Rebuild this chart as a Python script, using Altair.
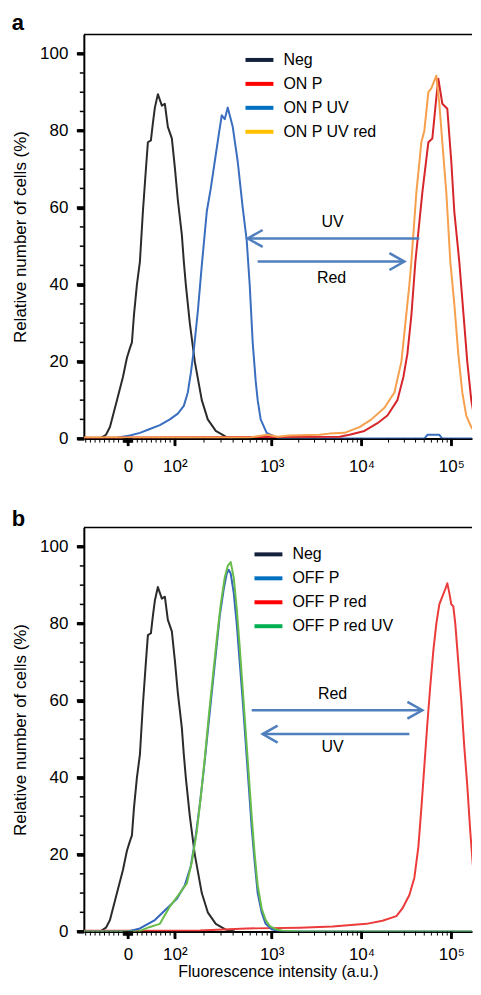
import math
import altair as alt
import pandas as pd

# ---------------------------------------------------------------------------
# Data (x = display channel of the biexponential cytometry axis:
#        0 = zero fluorescence, ~90 channels per decade in the log region;
#        y = relative number of cells, %)
# ---------------------------------------------------------------------------
neg_ch = [-28, -22, -18, -11, -5, -1, 2, 4, 6, 9, 12, 15, 18, 20, 23, 25, 27, 30, 32, 34,
          37, 40, 44, 47, 50, 54, 56, 58, 62, 67, 74, 80, 88, 98, 107]
neg_pct = [0, 1, 3, 10, 16, 21, 23.5, 25, 32, 40, 46, 59, 70, 77, 77.5, 82, 86, 89.5, 88, 86.5,
           87, 81, 78, 70.5, 62, 53, 46, 40, 30, 20, 10, 5, 2, 0.5, 0]

# panel a
onp_uv_ch = [-10, 2, 12, 22, 32, 42, 50, 56, 60, 63, 66, 70, 74, 79, 83, 87, 91, 94, 97, 100,
             105, 110, 115, 119, 122, 125, 128, 130, 133, 139, 149, 162, 297, 300, 312, 315, 353]
onp_uv_pct = [0.3, 0.8, 1.5, 2.5, 3.5, 5, 6.5, 8.5, 12, 17, 23, 33, 45, 59, 65, 72, 79, 84, 83, 86,
              81, 72, 60, 51.5, 40, 25, 15, 10, 5, 1.5, 0.3, 0, 0, 1, 1, 0, 0]

onp_ch = [-44, 212, 222, 237, 250, 260, 270, 276, 280, 284, 288, 295, 301, 305, 309, 311, 315,
          320, 324, 327, 332, 336, 340, 344, 348, 353]
onp_pct = [0.2, 0.5, 1, 2, 4, 6, 10, 16, 22, 32, 46, 64, 77, 78, 88.6, 93.5, 87,
           85.7, 72, 59, 46, 33, 20, 10, 4, 1.5]

onp_uv_red_ch = [-44, 122, 140, 150, 162, 192, 202, 217, 232, 244, 257, 267, 274, 278, 282, 284,
                 289, 294, 297, 301, 304, 309, 312, 315, 319, 323, 327, 331, 335, 339, 344, 350, 353]
onp_uv_red_pct = [0.3, 0.3, 1, 0.5, 0.8, 1, 1.3, 1.5, 3, 5, 8, 12, 20, 30, 40, 46,
                  64, 77, 80, 90, 91, 94.3, 87, 77, 64, 46, 35, 22, 12, 6, 3, 1, 0.5]

# panel b
offp_ch = [-44, 0, 12, 27, 39, 49, 57, 63, 68, 72, 76, 80, 84, 88, 92, 96, 99, 101, 103, 106,
           109, 112, 115, 118, 121, 124, 127, 130, 134, 138, 144, 152, 353]
offp_pct = [0, 0, 0.8, 3, 6, 8.5, 12, 17, 25, 33, 42, 52, 62, 72, 82, 89, 93, 94, 93, 88,
            80, 70, 60, 49, 38, 27, 18, 10, 5, 2, 0.6, 0.1, 0]

offp_red_ch = [-44, 72, 119, 172, 205, 239, 255, 269, 275, 282, 287, 291, 294, 297, 300, 303,
               306, 309, 312, 315, 318, 320, 322, 324, 326, 328, 331, 334, 337, 340, 343, 346,
               349, 352, 353]
offp_red_pct = [0.2, 0.3, 0.8, 1, 1.3, 2, 2.8, 4, 6, 9.5, 14, 22, 32, 43, 54, 64,
                73, 80, 85, 87, 89, 90.5, 88, 85, 84.5, 80, 70, 60, 48, 38, 26, 16,
                8, 3, 2]

offp_red_uv_ch = [-44, 10, 22, 32, 42, 52, 59, 64, 69, 73, 77, 81, 85, 89, 93, 97, 100, 103,
                  106, 109, 112, 115, 118, 121, 124, 127, 130, 134, 138, 142, 148, 155, 172, 353]
offp_red_uv_pct = [0, 0, 1.2, 2, 6.5, 10, 12.5, 18, 26, 35, 45, 56, 66, 76, 85, 92, 95, 96,
                   92, 84, 74, 63, 52, 41, 30, 20, 12, 6, 3, 1.5, 0.6, 0.2, 0, 0]

# series names, curve colours, legend swatch colours
a_names = ["Neg", "ON P", "ON P UV", "ON P UV red"]
a_curve_colors = ["#2b2b2b", "#d7262b", "#3a6ebf", "#f6a04d"]
a_legend_colors = ["#14213d", "#ff0000", "#0070c0", "#ffc000"]
a_draw_order = ["Neg", "ON P UV", "ON P", "ON P UV red"]

b_names = ["Neg", "OFF P", "OFF P red", "OFF P red UV"]
b_curve_colors = ["#2b2b2b", "#3466be", "#ec3b3b", "#68bd4a"]
b_legend_colors = ["#14213d", "#0070c0", "#ff0000", "#00b050"]
b_draw_order = ["Neg", "OFF P red", "OFF P", "OFF P red UV"]

# annotation arrows: (tail channel, tip channel, % level)
a_arrows = [(292, 120, 52.0), (130, 277, 46.0)]
a_arrow_labels = [("UV", 205, 56.2), ("Red", 204, 41.7)]
b_arrows = [(124, 295, 57.5), (282, 135, 51.3)]
b_arrow_labels = [("Red", 205, 61.8), ("UV", 205, 47.9)]

# axes
major_int = [0, 1e2, 1e3, 1e4, 1e5]
major_labels = ["0", "10²", "10³", "10⁴", "10⁵"]
minor_int = ([s * v for v in range(1, 10) for s in (-1, 1)] +
             [s * v for v in range(10, 100, 10) for s in (-1, 1)] +
             list(range(200, 1000, 100)) + list(range(2000, 10000, 1000)) +
             list(range(20000, 100000, 10000)) + [200000])
y_major = [0, 20, 40, 60, 80, 100]
y_minor = [v for v in range(5, 101, 5) if v % 20]
Y_MAX = 105
Y_TITLE = "Relative number of cells (%)"

PLOT_W, PLOT_H = 389, 405


def biex(v):
    """Intensity -> display channel of the biexponential axis."""
    if abs(v) <= 100:
        return 0.47 * v
    if v <= 1e3:
        return 47 + 97 * math.log10(v / 100)
    if v <= 1e4:
        return 144 + 90 * math.log10(v / 1e3)
    return 234 + 90 * math.log10(v / 1e4)


X_DOMAIN = [biex(-94), biex(1.7e5)]
major_pos = [round(biex(v), 4) for v in major_int]
minor_pos = [round(biex(v), 4) for v in minor_int
             if X_DOMAIN[0] <= biex(v) <= X_DOMAIN[1]]

label_expr = ""
for p, lab in zip(major_pos, major_labels):
    label_expr += f"abs(datum.value - {p}) < 0.01 ? '{lab}' : "
label_expr += "''"

FONT = "Liberation Sans"
ARROW = "#4f7fbd"

XS = alt.Scale(domain=X_DOMAIN, nice=False, zero=False)
YS = alt.Scale(domain=[0, Y_MAX], nice=False, zero=False)

curves = {
    "Neg": (neg_ch, neg_pct),
    "ON P": (onp_ch, onp_pct),
    "ON P UV": (onp_uv_ch, onp_uv_pct),
    "ON P UV red": (onp_uv_red_ch, onp_uv_red_pct),
    "OFF P": (offp_ch, offp_pct),
    "OFF P red": (offp_red_ch, offp_red_pct),
    "OFF P red UV": (offp_red_uv_ch, offp_red_uv_pct),
}


def make_axes(label_pad, title_pad, title_size):
    xa = alt.Axis(orient="bottom", values=major_pos, labelExpr=label_expr,
                  tickSize=7, tickWidth=2.5, tickColor="black",
                  domainColor="black", domainWidth=2, grid=False,
                  labelFont=FONT, labelFontSize=17, labelColor="black",
                  labelPadding=label_pad, labelFlush=False, labelOverlap=False,
                  titleFont=FONT, titleFontSize=title_size, titleFontWeight="normal",
                  titleColor="black", titlePadding=title_pad)
    ya = alt.Axis(orient="left", values=y_major, tickSize=7, tickWidth=3,
                  tickColor="black", domainColor="black", domainWidth=2,
                  grid=False, labelFont=FONT, labelFontSize=17, labelOverlap=False,
                  labelColor="black", labelPadding=9,
                  titleFont=FONT, titleFontSize=17, titleFontWeight="normal",
                  titleColor="black", titlePadding=10)
    return xa, ya


def panel(letter, names, curve_colors, legend_colors, order, arrows, arrow_labels,
          legend_x, legend_y, xtitle, title_offset, label_pad, title_pad, title_size):
    frames = []
    for n in names:
        ch, pct = curves[n]
        frames.append(pd.DataFrame({"series": n, "ch": ch, "pct": pct}))
    df = pd.concat(frames, ignore_index=True)
    x_axis, y_axis = make_axes(label_pad, title_pad, title_size)

    def X(field):
        return alt.X(field, type="quantitative", scale=XS, axis=x_axis, title=xtitle)

    def Y(field):
        return alt.Y(field, type="quantitative", scale=YS, axis=y_axis, title=Y_TITLE)

    layers = []
    # top frame line
    fdf = pd.DataFrame({"x0": [X_DOMAIN[0]], "x1": [X_DOMAIN[1]], "y": [Y_MAX]})
    layers.append(alt.Chart(fdf).mark_rule(color="black", strokeWidth=1.5).encode(
        x=X("x0"), x2="x1:Q", y=Y("y")))
    # curves
    cmap = dict(zip(names, curve_colors))
    for n in order:
        layers.append(alt.Chart(df).transform_filter(alt.datum.series == n).mark_line(
            color=cmap[n], strokeWidth=2, clip=True, strokeJoin="round").encode(
            x=X("ch"), y=Y("pct")))
    # tick marks (major and minor) of both axes
    for vals, ln, w in ((major_pos, 7, 2.5), (minor_pos, 4, 1)):
        layers.append(alt.Chart(pd.DataFrame({"t": vals})).mark_rule(
            color="black", strokeWidth=w).encode(
            x=X("t"), y=alt.value(PLOT_H), y2=alt.value(PLOT_H + ln)))
    for vals, ln, w in ((y_major, 7, 3), (y_minor, 4, 1.5)):
        layers.append(alt.Chart(pd.DataFrame({"t": vals})).mark_rule(
            color="black", strokeWidth=w).encode(
            y=Y("t"), x=alt.value(0), x2=alt.value(-ln)))
    # legend (swatch colours differ from curve colours)
    layers.append(alt.Chart(df).transform_filter("false").mark_line().encode(
        x=X("ch"), y=Y("pct"),
        color=alt.Color("series:N",
                        scale=alt.Scale(domain=names, range=legend_colors),
                        legend=alt.Legend(orient="none", legendX=legend_x, legendY=legend_y,
                                          title=None, symbolType="stroke", symbolSize=784,
                                          symbolStrokeWidth=4, labelFont=FONT,
                                          labelFontSize=16, labelColor="black",
                                          labelOffset=8, rowPadding=-4, padding=0))))
    # arrows
    adf = pd.DataFrame(arrows, columns=["tail", "tip", "y"])
    adf["dir"] = ["left" if t < s else "right" for s, t in zip(adf["tail"], adf["tip"])]
    layers.append(alt.Chart(adf).mark_rule(color=ARROW, strokeWidth=2.5).encode(
        x=X("tail"), x2="tip:Q", y=Y("y")))
    for d, path in (("left", "M 2 -1.13 L 0 0 L 2 1.13"), ("right", "M -2 -1.13 L 0 0 L -2 1.13")):
        layers.append(alt.Chart(adf).transform_filter(alt.datum.dir == d).mark_point(
            shape=path, filled=False, size=225, strokeWidth=2.5, color=ARROW, opacity=1).encode(
            x=X("tip"), y=Y("y")))
    tdf = pd.DataFrame(arrow_labels, columns=["text", "x", "y"])
    layers.append(alt.Chart(tdf).mark_text(font=FONT, fontSize=16, color="black",
                                           align="center", baseline="middle").encode(
        x=X("x"), y=Y("y"), text="text:N"))

    return alt.layer(*layers).properties(
        width=PLOT_W, height=PLOT_H,
        title=alt.TitleParams(letter, anchor="start", font=FONT, fontSize=22,
                              fontWeight="bold", color="black", offset=title_offset))


pa = panel("a", a_names, a_curve_colors, a_legend_colors, a_draw_order, a_arrows,
           a_arrow_labels, 160, 9.5, None, -1.5, 13, 8, 17)
pb = panel("b", b_names, b_curve_colors, b_legend_colors, b_draw_order, b_arrows,
           b_arrow_labels, 169, 11, "Fluorescence intensity (a.u.)", -4, 8, 1, 16)

chart = alt.vconcat(pa, pb, spacing=33).resolve_scale(color="independent").properties(
    padding={"left": 3, "top": 2.5, "right": 0, "bottom": 0}
).configure_view(stroke=None)

chart.save("out.html", embed_options={"renderer": "svg", "actions": False})
